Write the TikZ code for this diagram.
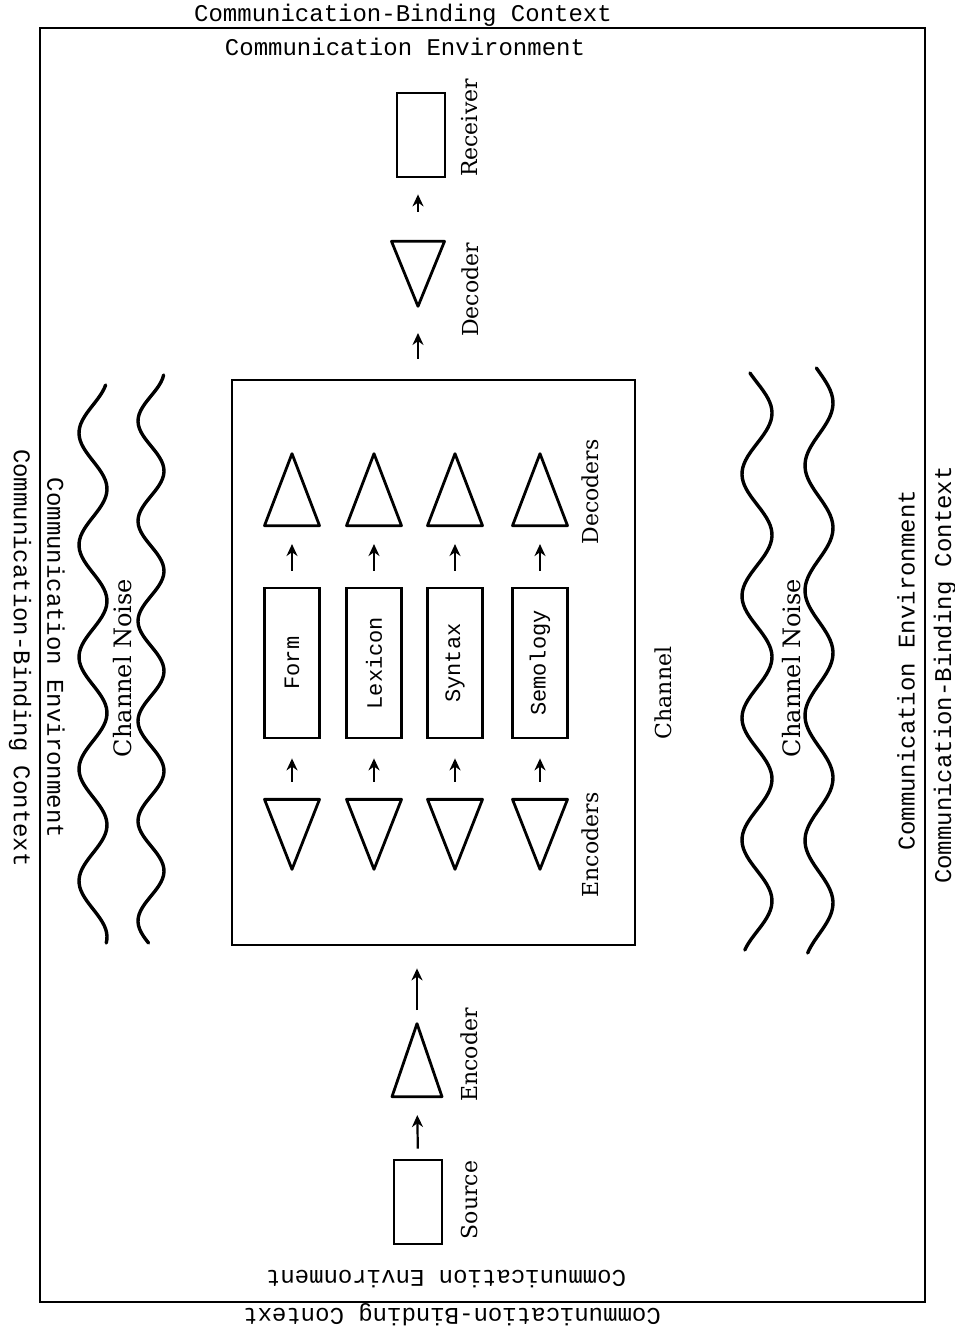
\documentclass[tikz,border=0pt]{standalone}
\usepackage{fontspec}
\setmainfont{DejaVu Serif}
\newfontfamily\monof{Liberation Mono}
\usetikzlibrary{shapes.geometric,arrows.meta}
\begin{document}
\begin{tikzpicture}[x=1pt,y=-1pt,
  frame/.style={draw,line width=2.8pt},
  mono/.style={font=\monof\fontsize{24}{28}\selectfont,inner sep=0pt},
  lbl/.style={font=\fontsize{22}{26}\selectfont,inner sep=0pt},
  boxn/.style={draw,line width=2.8pt,rectangle,inner sep=0pt,minimum width=55pt,minimum height=150pt},
  endbox/.style={draw,line width=2.8pt,rectangle,inner sep=0pt,minimum width=48pt,minimum height=84pt},
  tri/.style={draw,line width=2.8pt,isosceles triangle,isosceles triangle stretches,inner sep=0pt,
    minimum width=55pt,minimum height=72pt,line join=round},
  triup/.style={tri,shape border rotate=90,anchor=apex},
  tridown/.style={tri,shape border rotate=270,anchor=apex},
  arr/.style={line width=2.2pt,-{Stealth[length=12pt,width=11pt]}},
  wave/.style={line width=3.4pt,line cap=round}
]
\useasboundingbox (0,0) rectangle (955,1328);
\fill[white] (0,0) rectangle (955,1328);

% outer frame
\draw[frame] (40,28) rectangle (925,1302);

% context / environment labels
\node[mono] (tB) at (403,15) {Communication-Binding Context};
\node[mono] (tE) at (405,47) {Communication Environment};
\node[mono,rotate=180] (bE) at (446,1279) {Communication Environment};
\node[mono,rotate=180] (bB) at (452,1315) {Communication-Binding Context};
\node[mono,rotate=-90] (lB) at (20,658) {Communication-Binding Context};
\node[mono,rotate=-90] (lE) at (56,658) {Communication Environment};
\node[mono,rotate=90] (rE) at (906,670) {Communication Environment};
\node[mono,rotate=90] (rB) at (945,675) {Communication-Binding Context};

% channel noise waves
\draw[wave] plot[domain=385:943,samples=160,smooth,variable=\t] ({93-14*sin((\t-405)/112*360)},\t);
\draw[wave] plot[domain=375:943,samples=160,smooth,variable=\t] ({151-13*sin((\t-396)/100*360)},\t);
\draw[wave] plot[domain=373:950,samples=160,smooth,variable=\t] ({757+15*sin((\t-382.5)/122*360)},\t);
\draw[wave] plot[domain=368:953,samples=160,smooth,variable=\t] ({819+14*sin((\t-371.75)/125*360)},\t);
\node[lbl,font=\fontsize{24}{28}\selectfont,rotate=90] (nL) at (123,668) {Channel Noise};
\node[lbl,font=\fontsize{24}{28}\selectfont,rotate=90] (nR) at (792,668) {Channel Noise};

% channel box
\node[draw,line width=2.8pt,rectangle,inner sep=0pt,minimum width=403pt,minimum height=565pt] (chan) at (433.5,662.5) {};
\node[lbl,rotate=90] (chanlbl) at (663,693) {Channel};
\node[lbl,rotate=90] (decslbl) at (590,492) {Decoders};
\node[lbl,rotate=90] (encslbl) at (590,845) {Encoders};

% inner columns
\node[boxn] (form) at (292,663) {\rotatebox{90}{\monof\fontsize{22}{26}\selectfont Form}};
\node[boxn] (lex) at (374,663) {\rotatebox{90}{\monof\fontsize{22}{26}\selectfont Lexicon}};
\node[boxn] (syn) at (455,663) {\rotatebox{90}{\monof\fontsize{22}{26}\selectfont Syntax}};
\node[boxn] (sem) at (540,663) {\rotatebox{90}{\monof\fontsize{22}{26}\selectfont Semology}};

\node[triup] (dform) at (292,450) {};
\node[triup] (dlex) at (374,450) {};
\node[triup] (dsyn) at (455,450) {};
\node[triup] (dsem) at (540,450) {};
\node[tridown,minimum height=70pt] (eform) at (292,873) {};
\node[tridown,minimum height=70pt] (elex) at (374,873) {};
\node[tridown,minimum height=70pt] (esyn) at (455,873) {};
\node[tridown,minimum height=70pt] (esem) at (540,873) {};

\foreach \b in {form,lex,syn,sem}{
  \draw[arr,shorten <=16pt,shorten >=17pt] (\b.north) -- (d\b.lower side);
  \draw[arr,shorten <=16pt,shorten >=19pt] (e\b.lower side) -- (\b.south);
}

% source side
\node[endbox] (src) at (418,1202) {};
\node[triup,minimum height=73pt,minimum width=50pt] (enc) at (417,1020) {};
\node[lbl,rotate=90] (srclbl) at (469,1200) {Source};
\node[lbl,rotate=90] (enclbl) at (469,1055) {Encoder};
\draw[arr,shorten <=10pt,shorten >=17pt] (src.north) -- (enc.lower side);
\draw[arr,shorten <=10pt,shorten >=22pt] (enc.apex) -- (chan.south -| enc.apex);

% receiver side
\node[endbox] (rec) at (421,135) {};
\node[tridown,minimum height=65pt,minimum width=53pt] (dec) at (418,310) {};
\node[lbl,rotate=90] (reclbl) at (470,128) {Receiver};
\node[lbl,rotate=90] (declbl) at (470,290) {Decoder};
\draw[arr,shorten <=20pt,shorten >=23pt] (chan.north -| dec.apex) -- (dec.apex);
\draw[arr,shorten <=28pt,shorten >=16pt] (dec.lower side) -- (rec.south -| dec.lower side);
\end{tikzpicture}
\end{document}
